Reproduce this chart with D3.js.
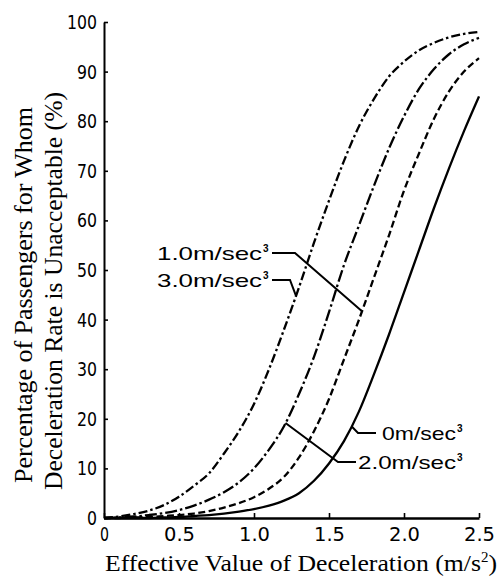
<!DOCTYPE html>
<html>
<head>
<meta charset="utf-8">
<script src="https://cdn.jsdelivr.net/npm/d3@7"></script>
<style>
  html, body { margin: 0; padding: 0; background: #fff; }
  svg { display: block; }
</style>
</head>
<body>
<svg id="chart" width="498" height="577"></svg>
<script>
// ---- data ----
const xValues = [0, 0.1, 0.2, 0.3, 0.4, 0.5, 0.6, 0.7, 0.8, 0.9, 1.0, 1.1, 1.2, 1.3, 1.4, 1.5, 1.6, 1.7, 1.8, 1.9, 2.0, 2.1, 2.2, 2.3, 2.4, 2.5];
const jerk30 = [0, 0.3, 0.8, 1.5, 2.6, 4.3, 6.5, 9, 13, 17.5, 23, 30, 38, 46.5, 55.5, 64, 72, 79, 84.5, 89, 92, 94.3, 95.8, 96.9, 97.6, 98];
const jerk20 = [0, 0.1, 0.3, 0.6, 1, 1.6, 2.5, 3.7, 5.2, 7.2, 10, 13.8, 18.5, 25, 32.5, 41.5, 51, 59, 67, 74.5, 81, 86.5, 90.5, 93.5, 95.5, 96.8];
const jerk10 = [0, 0, 0.1, 0.2, 0.4, 0.6, 0.9, 1.4, 2.1, 3, 4.2, 5.9, 8.3, 12.2, 17.5, 24, 32, 40, 48.5, 57, 66, 73.5, 80.5, 86, 90, 92.7];
const jerk00 = [0, 0, 0, 0, 0.1, 0.2, 0.4, 0.6, 0.9, 1.3, 1.8, 2.5, 3.5, 5, 7.5, 11, 15.5, 21.5, 29, 37, 45.5, 54, 62.5, 70.5, 78, 85];
const seriesLabels = ["3.0m/sec", "2.0m/sec", "1.0m/sec", "0m/sec"];
const xTicks = [0, 0.5, 1.0, 1.5, 2.0, 2.5];
const xTickLabels = ["0", "0.5", "1.0", "1.5", "2.0", "2.5"];
const yTicks = [0, 10, 20, 30, 40, 50, 60, 70, 80, 90, 100];
const xTitle = "Effective Value of Deceleration (m/s";
const yTitle1 = "Percentage of Passengers for Whom";
const yTitle2 = "Deceleration Rate is Unacceptable (%)";

// ---- drawing ----
const svg = d3.select("#chart");
const x = d3.scaleLinear().domain([0, 2.5]).range([104, 479]);
const y = d3.scaleLinear().domain([0, 100]).range([518, 22]);

const sansNarrow = "'Liberation Sans Narrow', 'Arial Narrow', 'DejaVu Sans Condensed', 'Liberation Sans', Arial, sans-serif";
const serif = "'Liberation Serif', 'Times New Roman', Times, serif";

const series = [
  { name: seriesLabels[0], values: jerk30, dash: "9,3,2.5,3" },
  { name: seriesLabels[1], values: jerk20, dash: "12,3,2.5,3" },
  { name: seriesLabels[2], values: jerk10, dash: "7,3.5" },
  { name: seriesLabels[3], values: jerk00, dash: null }
];

const line = d3.line()
  .x((d, i) => x(xValues[i]))
  .y(d => y(d))
  .curve(d3.curveMonotoneX);

series.forEach(s => {
  svg.append("path")
    .attr("d", line(s.values))
    .attr("fill", "none")
    .attr("stroke", "#000")
    .attr("stroke-width", 2.3)
    .attr("stroke-dasharray", s.dash);
});

// axes
const yAxis = d3.axisLeft(y).tickValues(yTicks).tickSizeInner(-4).tickSizeOuter(0).tickPadding(7);
const gy = svg.append("g").attr("transform", `translate(${x(0)},0)`).call(yAxis);
gy.select(".domain").attr("stroke-width", 2);
gy.selectAll(".tick line").attr("stroke-width", 1.6);
gy.selectAll(".tick text")
  .attr("font-family", sansNarrow)
  .attr("font-size", 20)
  .attr("fill", "#000")
  .attr("textLength", d => String(d).length * 10)
  .attr("lengthAdjust", "spacingAndGlyphs");

const xAxis = d3.axisBottom(x).tickValues(xTicks).tickFormat((d, i) => xTickLabels[i])
  .tickSizeInner(-5).tickSizeOuter(0).tickPadding(10);
const gx = svg.append("g").attr("transform", `translate(0,${y(0)})`).call(xAxis);
gx.select(".domain").attr("stroke-width", 2.4);
gx.selectAll(".tick line").attr("stroke-width", 1.6);
gx.selectAll(".tick text")
  .attr("font-family", sansNarrow)
  .attr("font-size", 19)
  .attr("fill", "#000")
  .attr("textLength", (d, i) => xTickLabels[i].length > 1 ? 31 : 9)
  .attr("lengthAdjust", "spacingAndGlyphs");

// axis titles
const xt = svg.append("text")
  .attr("x", 105).attr("y", 571)
  .attr("font-family", serif).attr("font-size", 24)
  .attr("textLength", 392).attr("lengthAdjust", "spacingAndGlyphs");
xt.append("tspan").text(xTitle);
xt.append("tspan").attr("font-size", 14).attr("dy", -9).text("2");
xt.append("tspan").attr("dy", 9).text(")");

svg.append("text")
  .attr("transform", "translate(32,483) rotate(-90)")
  .attr("font-family", serif).attr("font-size", 25)
  .attr("textLength", 376).attr("lengthAdjust", "spacingAndGlyphs")
  .text(yTitle1);
svg.append("text")
  .attr("transform", "translate(62,490) rotate(-90)")
  .attr("font-family", serif).attr("font-size", 25)
  .attr("textLength", 398).attr("lengthAdjust", "spacingAndGlyphs")
  .text(yTitle2);

// annotations with leader lines
function yAt(values, xv) {
  const i = d3.bisectRight(xValues, xv) - 1;
  const j = Math.min(i + 1, xValues.length - 1);
  const t = (xv - xValues[i]) / ((xValues[j] - xValues[i]) || 1);
  return values[i] + t * (values[j] - values[i]);
}

const notes = [
  { s: 2, tx: 157, tb: 260, tl: 105, path: [[272, 253], [295, 253]], ax: 1.72 },
  { s: 0, tx: 157, tb: 287, tl: 105, path: [[272, 280], [290, 280]], ax: 1.28 },
  { s: 3, tx: 382, tb: 440, tl: 74, path: [[376, 433], [358, 433]], ax: 1.65 },
  { s: 1, tx: 358, tb: 469, tl: 98, path: [[356, 462], [338, 462]], ax: 1.21 }
];

notes.forEach(n => {
  const s = series[n.s];
  const pts = n.path.concat([[x(n.ax), y(yAt(s.values, n.ax))]]);
  svg.append("path")
    .attr("d", d3.line()(pts))
    .attr("fill", "none").attr("stroke", "#000").attr("stroke-width", 2);
  svg.append("text")
    .attr("x", n.tx).attr("y", n.tb)
    .attr("font-family", "'Liberation Sans', Arial, sans-serif")
    .attr("font-size", 19)
    .attr("textLength", n.tl).attr("lengthAdjust", "spacingAndGlyphs")
    .text(s.name);
  svg.append("text")
    .attr("x", n.tx + n.tl + 1).attr("y", n.tb - 8)
    .attr("font-family", "'Liberation Sans', Arial, sans-serif")
    .attr("font-size", 10).attr("font-weight", "bold")
    .text("3");
});
</script>
</body>
</html>
